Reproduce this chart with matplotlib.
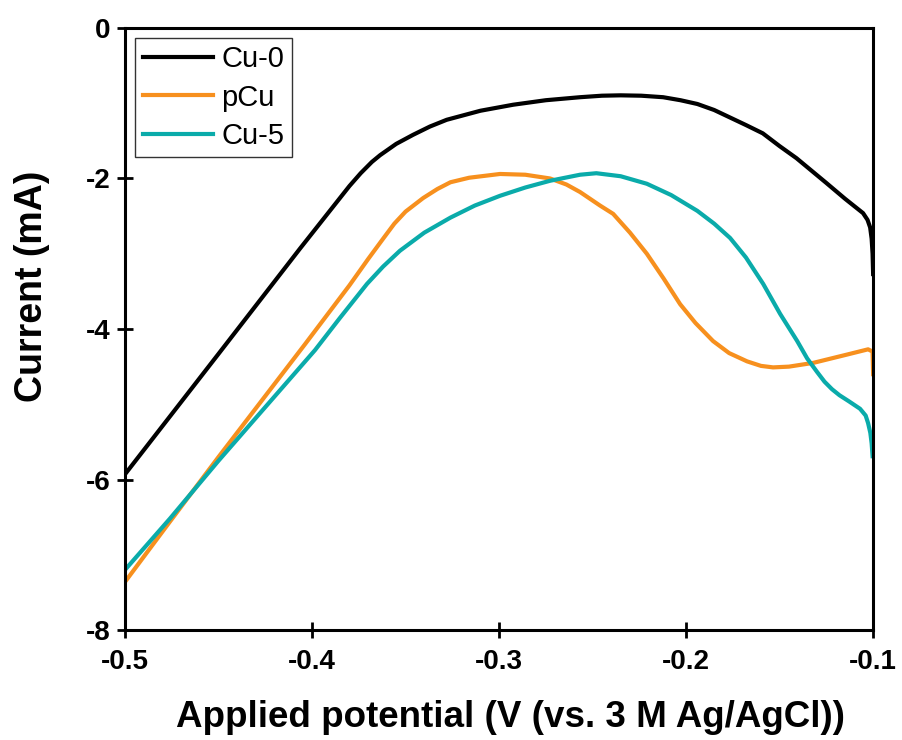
import matplotlib.pyplot as plt

plt.rcParams['font.family'] = ['Liberation Sans', 'DejaVu Sans']
plt.rcParams['font.weight'] = 'bold'

# Cu-0
cu0_v = [-0.5, -0.45, -0.4064, -0.38, -0.374, -0.368, -0.3636, -0.355, -0.346, -0.337,
         -0.328, -0.31, -0.2925, -0.275, -0.2567, -0.245, -0.235, -0.224, -0.2123, -0.203,
         -0.194, -0.185, -0.1765, -0.168, -0.159, -0.15, -0.141, -0.125, -0.115, -0.1054,
         -0.103, -0.1016, -0.1008, -0.1003, -0.1]
cu0_i = [-5.93, -4.33, -2.93, -2.1, -1.93, -1.78, -1.69, -1.54, -1.42, -1.31,
         -1.22, -1.1, -1.02, -0.96, -0.92, -0.9, -0.895, -0.9, -0.92, -0.96,
         -1.01, -1.09, -1.19, -1.29, -1.4, -1.57, -1.73, -2.06, -2.27, -2.46,
         -2.55, -2.65, -2.8, -3.0, -3.27]

# pCu
pcu_v = [-0.5, -0.476, -0.45, -0.4037, -0.38, -0.37, -0.362, -0.356, -0.35, -0.3406,
         -0.333, -0.326, -0.316, -0.2995, -0.286, -0.2727, -0.264, -0.2567, -0.246, -0.239,
         -0.23, -0.221, -0.212, -0.2032, -0.195, -0.1856, -0.177, -0.1674, -0.16, -0.1535,
         -0.145, -0.132, -0.114, -0.1027, -0.1003, -0.1]
pcu_i = [-7.36, -6.56, -5.7, -4.2, -3.42, -3.07, -2.8, -2.6, -2.44, -2.26,
         -2.14, -2.05, -1.99, -1.94, -1.95, -2.0, -2.08, -2.18, -2.36, -2.47,
         -2.72, -3.0, -3.33, -3.67, -3.92, -4.16, -4.32, -4.43, -4.49, -4.51,
         -4.5, -4.45, -4.34, -4.27, -4.3, -4.6]

# Cu-5
cu5_v = [-0.5, -0.476, -0.45, -0.3984, -0.385, -0.3706, -0.362, -0.353, -0.34, -0.326,
         -0.313, -0.2995, -0.286, -0.2727, -0.2567, -0.248, -0.235, -0.221, -0.208, -0.194,
         -0.185, -0.1765, -0.168, -0.1588, -0.1497, -0.1406, -0.1353, -0.13, -0.126, -0.122,
         -0.118, -0.113, -0.107, -0.104, -0.1027, -0.1015, -0.1008, -0.1003]
cu5_i = [-7.2, -6.52, -5.75, -4.28, -3.85, -3.4, -3.17, -2.96, -2.72, -2.52,
         -2.36, -2.23, -2.12, -2.03, -1.95, -1.93, -1.97, -2.07, -2.22, -2.43,
         -2.6, -2.79, -3.05, -3.4, -3.8, -4.16, -4.39, -4.57, -4.7, -4.8,
         -4.88, -4.96, -5.06, -5.15, -5.25, -5.38, -5.52, -5.69]

fig = plt.figure(figsize=(9.02, 7.4), dpi=100)
ax = fig.add_axes([0.1386, 0.1486, 0.8294, 0.8136])

ax.plot(cu0_v, cu0_i, color='black', lw=3, label='Cu-0')
ax.plot(pcu_v, pcu_i, color='#F7901E', lw=3, label='pCu')
ax.plot(cu5_v, cu5_i, color='#0AABAA', lw=3, label='Cu-5')

ax.set_xlim(-0.5, -0.1)
ax.set_ylim(-8, 0)
ax.set_xticks([-0.5, -0.4, -0.3, -0.2, -0.1])
ax.set_xticklabels(['-0.5', '-0.4', '-0.3', '-0.2', '-0.1'])
ax.set_yticks([0, -2, -4, -6, -8])
ax.set_yticklabels(['0', '-2', '-4', '-6', '-8'])
ax.tick_params(direction='inout', length=11, width=2, labelsize=20)
ax.tick_params(axis='x', pad=8)
ax.tick_params(axis='y', pad=5)
for s in ax.spines.values():
    s.set_linewidth(2.2)

ax.set_xlabel('Applied potential (V (vs. 3 M Ag/AgCl))', fontsize=26.5, fontweight='bold',
              va='center')
ax.set_ylabel('Current (mA)', fontsize=27, fontweight='bold', va='center')
ax.xaxis.set_label_coords(0.515, -0.1445)
ax.yaxis.set_label_coords(-0.124, 0.571)

leg = ax.legend(loc='upper left', fontsize=21, frameon=True, fancybox=False,
                edgecolor='black', handlelength=2.4, borderaxespad=0.35,
                handletextpad=0.3, labelspacing=0.35, borderpad=0.25)
leg.get_frame().set_linewidth(1.0)
for t in leg.get_texts():
    t.set_fontweight('normal')

fig.savefig('out.png', dpi=100)
